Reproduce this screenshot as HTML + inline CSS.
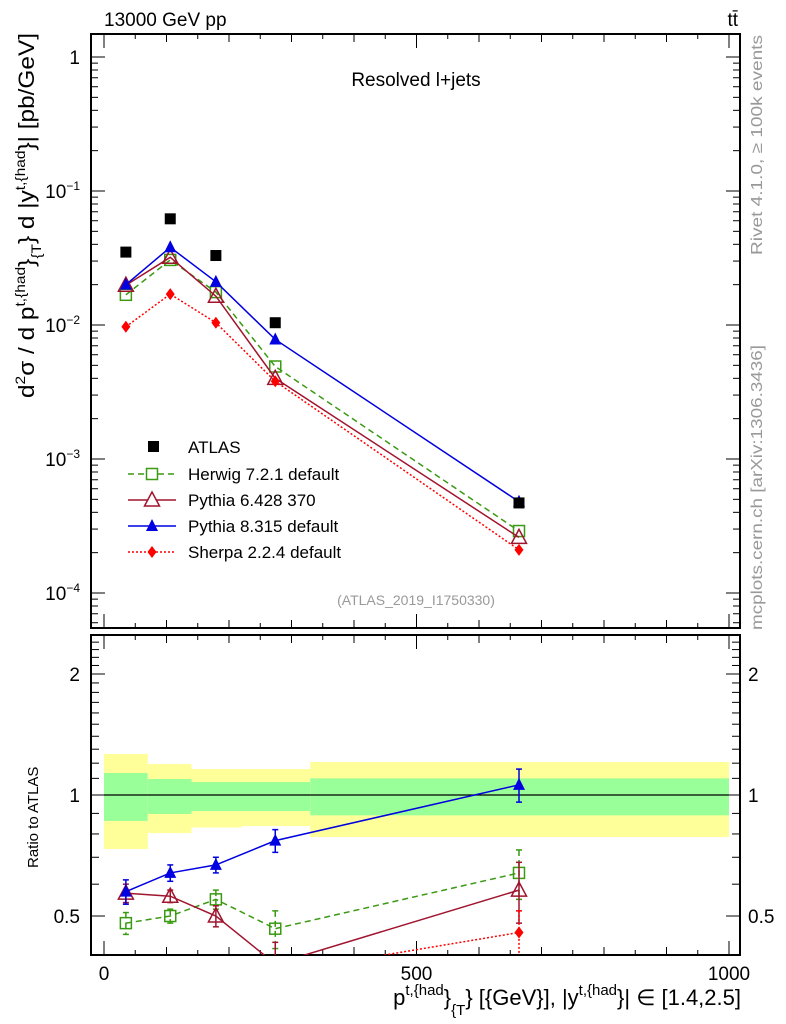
<!DOCTYPE html>
<html><head><meta charset="utf-8"><style>
html,body{margin:0;padding:0;background:#fff;}
svg{display:block;font-family:"Liberation Sans",sans-serif;}
</style></head><body>
<svg id="c" width="786" height="1024" xmlns="http://www.w3.org/2000/svg"></svg>
<script>
const xVals=[35,106,179,274,664];
const atlas=[0.035,0.062,0.033,0.0104,0.00047];
const herwig=[0.0168,0.0306,0.0176,0.0049,0.00029];
const py6=[0.0198,0.032,0.0164,0.0040,0.00026];
const py8=[0.020,0.038,0.021,0.0078,0.00048];
const sherpa=[0.0097,0.017,0.0104,0.0038,0.00021];
const rHerwig=[0.48,0.50,0.55,0.465,0.64];
const rPy6=[0.57,0.56,0.50,0.38,0.58];
const rPy8=[0.575,0.64,0.67,0.77,1.06];
const rSherpa=[0.28,0.27,0.31,0.36,0.455];
const rErr=[0.04,0.03,0.03,0.05,0.1];
const binEdges=[0,70,140,220,330,1000];
const bandYelLo=[0.734,0.804,0.83,0.837,0.786];
const bandYelHi=[1.265,1.194,1.16,1.16,1.208];
const bandGrnLo=[0.862,0.897,0.912,0.912,0.89];
const bandGrnHi=[1.134,1.096,1.077,1.077,1.10];
const xTicks=[0,500,1000];
const yTicksMain=[1,0.1,0.01,0.001,0.0001];
const yTickLabelsMain=["1","10<tspan dy='-8' font-size='12'>−1</tspan>","10<tspan dy='-8' font-size='12'>−2</tspan>","10<tspan dy='-8' font-size='12'>−3</tspan>","10<tspan dy='-8' font-size='12'>−4</tspan>"];
const yTicksRatio=[0.5,1,2];

const NS="http://www.w3.org/2000/svg";
const svg=document.getElementById('c');
const L=91,R=740,T=34,B=628,RT=635,RB=955;
const X=v=>104+v*0.625;
const Y=v=>57-134*Math.log10(v);
const YR=v=>795-402*Math.log10(v);
function el(tag,attrs,parent){const e=document.createElementNS(NS,tag);for(const k in attrs)e.setAttribute(k,attrs[k]);(parent||svg).appendChild(e);return e;}

const defs=el('defs',{});
const cp1=el('clipPath',{id:'cm'},defs);el('rect',{x:L,y:T,width:R-L,height:B-T},cp1);
const cp2=el('clipPath',{id:'cr'},defs);el('rect',{x:L,y:RT,width:R-L,height:RB-RT},cp2);

const gBand=el('g',{'clip-path':'url(#cr)'});


for(let i=0;i<bandYelLo.length;i++){
  const x0=X(binEdges[i]),x1=X(binEdges[i+1]);
  const r1=el('rect',{x:x0,y:YR(bandYelHi[i]),width:x1-x0,height:YR(bandYelLo[i])-YR(bandYelHi[i]),fill:'#ffff99'},gBand);
  
  
  const r2=el('rect',{x:x0,y:YR(bandGrnHi[i]),width:x1-x0,height:YR(bandGrnLo[i])-YR(bandGrnHi[i]),fill:'#99ff99'},gBand);
  
  
}
el('line',{x1:X(0),x2:X(1000),y1:YR(1),y2:YR(1),stroke:'#000','stroke-width':1.2});

const fm=el('rect',{x:L,y:T,width:R-L,height:B-T,fill:'none',stroke:'#000','stroke-width':2});


const fr=el('rect',{x:L,y:RT,width:R-L,height:RB-RT,fill:'none',stroke:'#000','stroke-width':2});



for(let v=0;v<=1000;v+=50){
  const len=v%500===0?14:(v%100===0?8:5);
  const x=X(v);
  for(const [y0,d] of [[B,-1],[T,1],[RB,-1],[RT,1]]) el('line',{x1:x,x2:x,y1:y0,y2:y0+d*len,stroke:'#000','stroke-width':1});
}
xTicks.forEach(v=>{const t=el('text',{x:X(v),y:980,'font-size':19,'text-anchor':'middle'});t.textContent=v;
});

for(let e=-5;e<=0;e++){for(let m=1;m<=9;m++){const v=m*Math.pow(10,e);const y=Y(v);if(y<T||y>B)continue;
 const len=m===1?14:7;
 el('line',{x1:L,x2:L+len,y1:y,y2:y,stroke:'#000'});el('line',{x1:R,x2:R-len,y1:y,y2:y,stroke:'#000'});}}
yTicksMain.forEach((v,i)=>{const t=el('text',{x:80,y:Y(v)+7,'font-size':19,'text-anchor':'end'});t.innerHTML=yTickLabelsMain[i];
});

for(let v=0.4;v<=2.51;v+=0.1){const y=YR(v);if(y<RT||y>RB)continue;const big=[0.5,1,2].some(k=>Math.abs(k-v)<1e-6);const len=big?14:8;
 el('line',{x1:L,x2:L+len,y1:y,y2:y,stroke:'#000'});el('line',{x1:R,x2:R-len,y1:y,y2:y,stroke:'#000'});}
yTicksRatio.forEach(v=>{const lab=v===0.5?'0.5':String(v);
 const t=el('text',{x:80,y:YR(v)+7,'font-size':19,'text-anchor':'end'});t.textContent=lab;
 
 const t2=el('text',{x:748,y:YR(v)+7,'font-size':19});t2.textContent=lab;
 });

function marker(g,type,x,y,color){
  if(type==='sq') el('rect',{x:x-5.5,y:y-5.5,width:11,height:11,fill:'#000'},g);
  else if(type==='osq') el('rect',{x:x-5.5,y:y-5.5,width:11,height:11,fill:'none',stroke:color,'stroke-width':1.5},g);
  else if(type==='otri') el('polygon',{points:`${x},${y-8} ${x-7.5},${y+6} ${x+7.5},${y+6}`,fill:'none',stroke:color,'stroke-width':1.5},g);
  else if(type==='tri') el('polygon',{points:`${x},${y-7} ${x-6},${y+5} ${x+6},${y+5}`,fill:color},g);
  else if(type==='dia') el('polygon',{points:`${x},${y-6} ${x-4.5},${y} ${x},${y+6} ${x+4.5},${y}`,fill:color},g);
}
function series(name,vals,yf,clip,type,color,dash,line,err){
  const g=el('g',{'clip-path':clip});
  
  
  if(line){const pts=vals.map((v,i)=>X(xVals[i])+','+yf(v)).join(' ');
    const a={points:pts,fill:'none',stroke:color,'stroke-width':1.5};if(dash)a['stroke-dasharray']=dash;el('polyline',a,g);}
  vals.forEach((v,i)=>{const x=X(xVals[i]),y=yf(v);
    if(err){const e=err[i];const a={x1:x,x2:x,y1:yf(v+e),y2:yf(Math.max(v-e,0.01)),stroke:color,'stroke-width':1.5};if(dash)a['stroke-dasharray']=dash;el('line',a,g);
      el('line',{x1:x-3,x2:x+3,y1:yf(v+e),y2:yf(v+e),stroke:color,'stroke-width':1.5},g);
      el('line',{x1:x-3,x2:x+3,y1:yf(v-e),y2:yf(v-e),stroke:color,'stroke-width':1.5},g);}
    marker(g,type,x,y,color);});
}
series('herwig-series',herwig,Y,'url(#cm)','osq','#3a9a11','6,4',true);
series('pythia6-series',py6,Y,'url(#cm)','otri','#a0142e',null,true);
series('pythia8-series',py8,Y,'url(#cm)','tri','#0000e0',null,true);
series('sherpa-series',sherpa,Y,'url(#cm)','dia','#ff0000','2,2',true);
series('atlas-data',atlas,Y,'url(#cm)','sq','#000',null,false);
series('herwig-ratio',rHerwig,YR,'url(#cr)','osq','#3a9a11','6,4',true,[0.03,0.02,0.03,0.05,0.09]);
series('pythia6-ratio',rPy6,YR,'url(#cr)','otri','#a0142e',null,true,[0.03,0.02,0.03,0.05,0.1]);
series('pythia8-ratio',rPy8,YR,'url(#cr)','tri','#0000e0',null,true,rErr);
series('sherpa-ratio',rSherpa,YR,'url(#cr)','dia','#ff0000','2,2',true,[0.02,0.02,0.02,0.03,0.06]);
</script>
<svg width="786" height="1024" style="position:absolute;left:0;top:0" xmlns="http://www.w3.org/2000/svg">
<g font-family="Liberation Sans, sans-serif">
<text x="104" y="26" font-size="19">13000 GeV pp</text>
<text x="738" y="26" font-size="19" text-anchor="end">tt̄</text>
<text x="416" y="86" font-size="19" text-anchor="middle">Resolved l+jets</text>
<text x="416" y="605" font-size="14" fill="#999" text-anchor="middle">(ATLAS_2019_I1750330)</text>
<text transform="translate(762,255) rotate(-90)" font-size="16" fill="#999" textLength="220" lengthAdjust="spacingAndGlyphs">Rivet 4.1.0, ≥ 100k events</text>
<text transform="translate(762,630) rotate(-90)" font-size="16" fill="#999" textLength="285" lengthAdjust="spacingAndGlyphs">mcplots.cern.ch [arXiv:1306.3436]</text>
<text transform="translate(34,398) rotate(-90)" font-size="22" textLength="365" lengthAdjust="spacingAndGlyphs">d<tspan dy="-9" font-size="14">2</tspan><tspan dy="9">σ /  d p</tspan><tspan dy="-9" font-size="14">t,{had</tspan><tspan dy="9">}</tspan><tspan dy="7" font-size="14">{T</tspan><tspan dy="-7">} d |y</tspan><tspan dy="-9" font-size="14">t,{had</tspan><tspan dy="9">}| [pb/GeV]</tspan></text>
<text transform="translate(38,868) rotate(-90)" font-size="15">Ratio to ATLAS</text>
<text x="741" y="1005" font-size="22" text-anchor="end">p<tspan dy="-10" font-size="15">t,{had</tspan><tspan dy="10">}</tspan><tspan dy="10" font-size="15">{T</tspan><tspan dy="-10">} [{GeV}], |y</tspan><tspan dy="-10" font-size="15">t,{had</tspan><tspan dy="10">}| ∈ [1.4,2.5]</tspan></text>
<g font-size="17">
<rect x="148" y="441" width="11" height="11" fill="#000"/>
<text x="188" y="453">ATLAS</text>
<line x1="128" x2="176" y1="474" y2="474" stroke="#3a9a11" stroke-width="1.5" stroke-dasharray="6,4"/>
<rect x="146.5" y="468.5" width="11" height="11" fill="#fff" stroke="#3a9a11" stroke-width="1.5"/>
<text x="188" y="480">Herwig 7.2.1 default</text>
<line x1="128" x2="176" y1="500" y2="500" stroke="#a0142e" stroke-width="1.5"/>
<polygon points="152,492 144.5,506 159.5,506" fill="#fff" stroke="#a0142e" stroke-width="1.5"/>
<text x="188" y="506">Pythia 6.428 370</text>
<line x1="128" x2="176" y1="526" y2="526" stroke="#0000e0" stroke-width="1.5"/>
<polygon points="152,519 146,531 158,531" fill="#0000e0"/>
<text x="188" y="532">Pythia 8.315 default</text>
<line x1="128" x2="176" y1="552" y2="552" stroke="#ff0000" stroke-width="1.5" stroke-dasharray="2,2"/>
<polygon points="152,546 147.5,552 152,558 156.5,552" fill="#ff0000"/>
<text x="188" y="558">Sherpa 2.2.4 default</text>
</g>
</g>
</svg>
</body></html>
